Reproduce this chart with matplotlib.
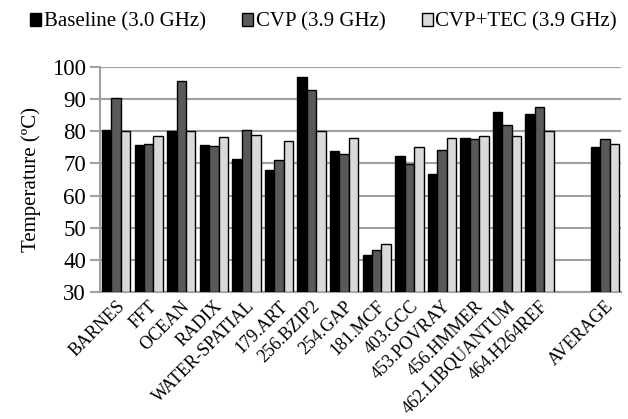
import matplotlib
matplotlib.use("Agg")
import matplotlib.pyplot as plt
import numpy as np

categories = ["BARNES", "FFT", "OCEAN", "RADIX", "WATER-SPATIAL", "179.ART",
              "256.BZIP2", "254.GAP", "181.MCF", "403.GCC", "453.POVRAY",
              "456.HMMER", "462.LIBQUANTUM", "464.H264REF", "", "AVERAGE"]
baseline = [80.3, 75.7, 80.0, 75.9, 71.3, 67.9, 96.8, 73.8, 41.4, 72.3, 66.7,
            78.0, 86.0, 85.4, np.nan, 75.1]
cvp = [90.3, 76.1, 95.7, 75.3, 80.4, 71.0, 93.0, 73.0, 43.0, 69.8, 74.3,
       77.6, 82.1, 87.6, np.nan, 77.7]
cvp_tec = [80.0, 78.5, 80.0, 78.3, 79.0, 76.9, 80.0, 77.9, 44.8, 75.0, 78.0,
           78.5, 78.5, 80.0, np.nan, 76.1]
series_names = ["Baseline (3.0 GHz)", "CVP (3.9 GHz)", "CVP+TEC (3.9 GHz)"]
colors = ["#000000", "#595959", "#d9d9d9"]
yticks = [30, 40, 50, 60, 70, 80, 90, 100]

plt.rcParams['font.family'] = ['Liberation Serif', 'DejaVu Serif']

fig = plt.figure(figsize=(6.28, 4.19), dpi=100)
ax = fig.add_axes([0.159, 0.303, 0.830, 0.537])

x = np.arange(len(categories))
w = 0.29
for i, (vals, name, c) in enumerate(zip([baseline, cvp, cvp_tec], series_names, colors)):
    ax.bar(x + (i - 1) * w, np.array(vals) - 30, width=w, bottom=30, color=c,
           edgecolor="black", linewidth=1.0, label=name, zorder=3)

ax.set_xlim(-0.5, len(categories) - 0.5)
ax.set_ylim(30, 100)
ax.set_yticks(yticks)
ax.set_yticklabels([str(t) for t in yticks], fontsize=16.5)
ax.yaxis.grid(True, color="#a0a0a0", linewidth=1.5, zorder=0)
ax.set_axisbelow(True)
for s in ["top", "right"]:
    ax.spines[s].set_visible(False)
ax.spines["left"].set_color("#a0a0a0")
ax.spines["left"].set_linewidth(1.5)
ax.spines["bottom"].set_color("#a0a0a0")
ax.spines["bottom"].set_linewidth(1.5)
ax.tick_params(axis="y", length=7, width=1.5, color="#a0a0a0", pad=3)
ax.tick_params(axis="x", length=0, pad=4)
ax.set_xticks(x)
ax.set_xticklabels(categories, rotation=45, ha="right", rotation_mode="anchor", fontsize=13)
ax.set_ylabel("Temperature (ºC)", fontsize=15, labelpad=8)

fig.legend(loc="upper center", bbox_to_anchor=(0.515, 1.015), ncol=3, frameon=False,
           fontsize=15, handlelength=0.55, handleheight=0.55, handletextpad=0.1,
           columnspacing=1.75)

fig.savefig("out.png", dpi=100)
